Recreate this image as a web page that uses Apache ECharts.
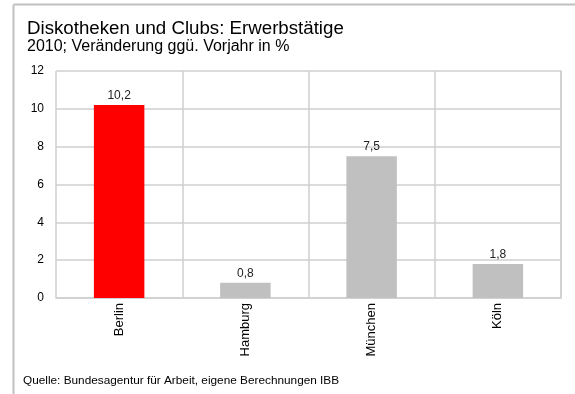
<!DOCTYPE html>
<html>
<head>
<meta charset="utf-8">
<script src="https://cdn.jsdelivr.net/npm/echarts@6/dist/echarts.min.js"></script>
<style>
html,body{margin:0;padding:0;background:#fff;}
#c{width:575px;height:394px;}
</style>
</head>
<body>
<div id="c"></div>
<script>
const titleText = 'Diskotheken und Clubs: Erwerbstätige';
const subtitleText = '2010; Veränderung ggü. Vorjahr in %';
const sourceText = 'Quelle: Bundesagentur für Arbeit, eigene Berechnungen IBB';
const categories = ['Berlin', 'Hamburg', 'München', 'Köln'];
const values = [10.2, 0.8, 7.5, 1.8];
const barColors = ['#ff0000', '#c0c0c0', '#c0c0c0', '#c0c0c0'];
const yMin = 0, yMax = 12, yStep = 2;

const FONT = '"Liberation Sans", Arial, sans-serif';
const GRID = '#cfcfcf';
const chart = echarts.init(document.getElementById('c'), null, {renderer: 'canvas'});
chart.setOption({
  animation: false,
  backgroundColor: '#ffffff',
  textStyle: {fontFamily: FONT},
  title: {
    text: titleText,
    subtext: subtitleText,
    left: 22,
    top: 14,
    itemGap: 1,
    textStyle: {fontFamily: FONT, fontSize: 18.7, fontWeight: 'normal', color: '#000'},
    subtextStyle: {fontFamily: FONT, fontSize: 16, color: '#000'}
  },
  grid: {left: 56, right: 14, top: 71, bottom: 96},
  xAxis: {
    type: 'category',
    data: categories,
    boundaryGap: true,
    axisLine: {show: true, lineStyle: {color: GRID, width: 1.5}},
    axisTick: {show: false},
    splitLine: {show: true, lineStyle: {color: GRID, width: 1.5}},
    axisLabel: {rotate: 90, margin: 5, fontSize: 13, color: '#000', fontFamily: FONT, interval: 0}
  },
  yAxis: [{
    type: 'value',
    min: yMin, max: yMax, interval: yStep,
    axisLine: {show: false},
    axisTick: {show: false},
    splitLine: {show: true, lineStyle: {color: GRID, width: 1.5}},
    axisLabel: {margin: 12, fontSize: 12, color: '#000', fontFamily: FONT}
  }, {
    type: 'value', position: 'right',
    min: yMin, max: yMax, interval: yStep,
    axisLine: {show: true, lineStyle: {color: GRID, width: 1.5}},
    axisTick: {show: false},
    splitLine: {show: false},
    axisLabel: {show: false}
  }],
  series: [{
    type: 'bar',
    barWidth: '40%',
    data: values.map((v, i) => ({value: v, itemStyle: {color: barColors[i]}})),
    label: {
      show: true, position: 'top', distance: 3,
      fontSize: 12, color: '#222', fontFamily: FONT,
      formatter: p => String(p.value).replace('.', ',')
    }
  }],
  graphic: [
    {type: 'line', shape: {x1: 13.5, y1: 4.5, x2: 575, y2: 4.5}, style: {stroke: '#c0c0c0', lineWidth: 2}},
    {type: 'line', shape: {x1: 13.5, y1: 4.5, x2: 13.5, y2: 394}, style: {stroke: '#c0c0c0', lineWidth: 2}},
    {type: 'text', left: 23, top: 375, style: {text: sourceText, font: '11.8px ' + FONT, fill: '#000'}}
  ]
});
</script>
</body>
</html>
